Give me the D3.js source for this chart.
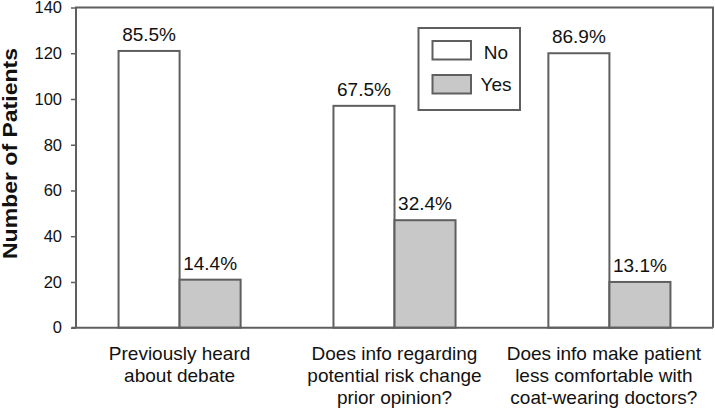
<!DOCTYPE html>
<html>
<head>
<meta charset="utf-8">
<script src="https://cdn.jsdelivr.net/npm/d3@7"></script>
<style>
  html, body { margin: 0; padding: 0; background: #fff; }
  svg { display: block; font-family: "Liberation Sans", Arial, Helvetica, sans-serif; }
</style>
</head>
<body>
<svg id="chart" width="715" height="410"></svg>
<script>
const categories = [
  ["Previously heard", "about debate"],
  ["Does info regarding", "potential risk change", "prior opinion?"],
  ["Does info make patient", "less comfortable with", "coat-wearing doctors?"]
];
const seriesNames = ["No", "Yes"];
const noValues = [121, 97, 120];
const yesValues = [21, 47, 20];
const noPct = ["85.5%", "67.5%", "86.9%"];
const yesPct = ["14.4%", "32.4%", "13.1%"];
const yTicks = [0, 20, 40, 60, 80, 100, 120, 140];
const yTitle = "Number of Patients";

(function () {
const fills = { No: "#ffffff", Yes: "#c8c8c8" };
const stroke = "#5f5f5f";

const svg = d3.select("#chart");
const mLeft = 76, mRight = 713, mTop = 7.5, mBottom = 327.7;

const catIdx = categories.map((d, i) => i);
const x0 = d3.scaleBand().domain(catIdx).range([mLeft, mRight])
  .paddingInner(0.432).paddingOuter(0.198);
const x1 = d3.scaleBand().domain(seriesNames).range([0, x0.bandwidth()]).padding(0);
const y = d3.scaleLinear().domain([0, 140]).range([mBottom, mTop]);

const data = [];
catIdx.forEach(i => {
  data.push({ cat: i, s: "No", v: noValues[i], pct: noPct[i] });
  data.push({ cat: i, s: "Yes", v: yesValues[i], pct: yesPct[i] });
});

// bars
svg.append("g").selectAll("rect").data(data).join("rect")
  .attr("x", d => x0(d.cat) + x1(d.s))
  .attr("y", d => y(d.v))
  .attr("width", x1.bandwidth())
  .attr("height", d => y(0) - y(d.v))
  .attr("fill", d => fills[d.s])
  .attr("stroke", stroke)
  .attr("stroke-width", 2);

// percentage labels
svg.append("g").selectAll("text").data(data).join("text")
  .attr("x", d => x0(d.cat) + x1(d.s) + x1.bandwidth() / 2)
  .attr("y", d => y(d.v) - 10)
  .attr("text-anchor", "middle")
  .attr("font-size", 19)
  .attr("fill", "#111")
  .text(d => d.pct);

// frame (top & right) + axes lines
svg.append("path")
  .attr("d", `M${mLeft},${mBottom}V${mTop}H${mRight}V${mBottom}`)
  .attr("fill", "none").attr("stroke", stroke).attr("stroke-width", 2);
svg.append("line")
  .attr("x1", mLeft - 4.5).attr("x2", mRight)
  .attr("y1", mBottom).attr("y2", mBottom)
  .attr("stroke", stroke).attr("stroke-width", 2);

// y axis
const yAxis = d3.axisLeft(y).tickValues(yTicks).tickSize(5).tickPadding(9);
const gy = svg.append("g").attr("transform", `translate(${mLeft},0)`).call(yAxis);
gy.select(".domain").remove();
gy.selectAll(".tick line").attr("stroke", stroke).attr("stroke-width", 1.5);
gy.selectAll(".tick text").attr("font-size", 16.5).attr("fill", "#111")
  .attr("font-family", "Liberation Sans, Arial, sans-serif");

// category labels (kept inside the right margin)
const gx = svg.append("g");
catIdx.forEach(i => {
  const t = gx.append("text")
    .attr("text-anchor", "middle")
    .attr("font-size", 19)
    .attr("fill", "#111");
  const spans = categories[i].map((line, j) =>
    t.append("tspan")
      .attr("y", 360 + j * 22)
      .text(line));
  const maxW = d3.max(spans, s => s.node().getComputedTextLength());
  const cx = Math.min(x0(i) + x0.bandwidth() / 2, 701 - maxW / 2);
  spans.forEach(s => s.attr("x", cx));
});

// y title
svg.append("text")
  .attr("transform", "translate(16.5,153.5) rotate(-90)")
  .attr("text-anchor", "middle")
  .attr("font-size", 19.5)
  .attr("font-weight", "bold")
  .attr("fill", "#111")
  .attr("textLength", 211)
  .attr("lengthAdjust", "spacingAndGlyphs")
  .text(yTitle);

// legend
const lg = svg.append("g");
lg.append("rect")
  .attr("x", 418.5).attr("y", 28).attr("width", 101.5).attr("height", 82)
  .attr("fill", "#fff").attr("stroke", stroke).attr("stroke-width", 2);
seriesNames.forEach((s, i) => {
  lg.append("rect")
    .attr("x", 432.5).attr("y", 41 + i * 34)
    .attr("width", 38.5).attr("height", 18.5)
    .attr("fill", fills[s]).attr("stroke", stroke).attr("stroke-width", 2);
  lg.append("text")
    .attr("x", 496).attr("y", 58.5 + i * 32.5)
    .attr("text-anchor", "middle")
    .attr("font-size", 19)
    .attr("fill", "#111")
    .text(s);
});
})();
</script>
</body>
</html>
